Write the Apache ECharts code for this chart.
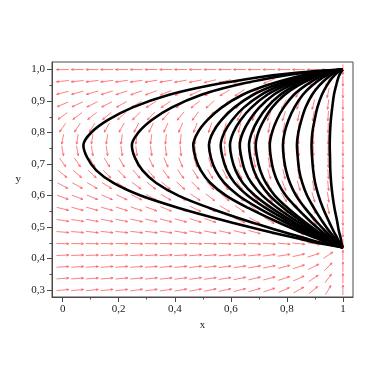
<!DOCTYPE html>
<html><head><meta charset="utf-8">
<script src="https://cdn.jsdelivr.net/npm/echarts@6/dist/echarts.min.js"></script>
<style>html,body{margin:0;padding:0;background:#fff}#c{width:382px;height:382px}</style>
</head><body><div id="c"></div>
<script>
// ---- tick data ----
const xTickValues = [0, 0.2, 0.4, 0.6, 0.8, 1];
const xTickLabels = ['0', '0,2', '0,4', '0,6', '0,8', '1'];
const xMinorTicks = [0.1, 0.3, 0.5, 0.7, 0.9];
const yTickValues = [0.3, 0.4, 0.5, 0.6, 0.7, 0.8, 0.9, 1.0];
const yTickLabels = ['0,3', '0,4', '0,5', '0,6', '0,7', '0,8', '0,9', '1,0'];
const yMinorTicks = [0.35, 0.45, 0.55, 0.65, 0.75, 0.85, 0.95];

// ---- direction field grid (20 x 20) ----
const fieldX = [0, 0.0526, 0.1053, 0.1579, 0.2105, 0.2632, 0.3158, 0.3684, 0.4211, 0.4737,
                0.5263, 0.5789, 0.6316, 0.6842, 0.7368, 0.7895, 0.8421, 0.8947, 0.9474, 1];
const fieldY = [0.3, 0.3368, 0.3737, 0.4105, 0.4474, 0.4842, 0.5211, 0.5579, 0.5947, 0.6316,
                0.6684, 0.7053, 0.7421, 0.7789, 0.8158, 0.8526, 0.8895, 0.9263, 0.9632, 1.0];
// arrow direction in degrees (counter-clockwise from +x), one row per fieldY value
const fieldAngle = [
  [5,5,6,6,6,7,7,8,9,10,11,12,13,16,18,23,29,40,59,90],
  [4,4,4,5,5,5,6,6,7,8,8,9,11,13,15,18,24,34,53,90],
  [3,3,3,4,4,4,4,5,5,6,6,7,8,9,11,14,18,27,45,90],
  [2,2,2,2,3,3,3,3,3,4,4,5,5,6,8,9,13,18,34,90],
  [359,359,359,359,359,359,359,359,358,358,358,358,357,357,356,355,354,351,342,270],
  [355,355,354,354,354,353,353,352,351,351,350,348,347,345,342,337,331,320,301,270],
  [351,351,350,349,349,348,347,346,345,343,342,339,337,333,329,323,315,304,288,270],
  [346,345,344,344,342,341,340,338,337,335,332,329,326,322,317,310,302,293,282,270],
  [340,339,338,337,335,334,332,330,328,325,322,319,315,311,306,300,293,286,278,270],
  [332,331,329,328,326,324,322,320,317,315,312,308,305,301,296,292,287,281,276,270],
  [320,319,317,315,313,311,309,307,305,302,300,297,294,291,287,284,281,277,274,270],
  [305,304,302,301,299,297,296,294,292,290,288,286,284,283,280,278,276,274,272,270],
  [280,280,279,278,278,277,277,276,276,275,275,274,274,273,273,272,272,271,271,270],
  [260,261,261,262,262,263,263,264,264,265,265,266,266,267,267,268,268,269,269,270],
  [235,237,238,240,241,243,244,246,248,250,252,254,256,258,260,262,264,266,268,270],
  [215,217,218,220,222,224,226,228,230,233,236,239,242,246,249,253,257,261,266,270],
  [203,204,206,207,209,210,212,214,217,219,222,226,229,234,239,244,250,256,263,270],
  [194,195,196,197,198,199,200,202,203,205,208,211,214,218,224,230,238,247,258,270],
  [186,186,187,187,188,188,189,189,190,191,193,194,196,198,202,207,214,225,243,270],
  [180,180,180,180,180,180,180,180,180,180,180,180,180,180,180,180,180,180,180,270]
];

// ---- trajectories: x values at the shared y levels ----
const trajY = [1.0, 0.99, 0.975, 0.95, 0.92, 0.88, 0.84, 0.80, 0.76, 0.72, 0.68, 0.64, 0.60, 0.56, 0.52, 0.49, 0.465, 0.45, 0.435];
const traj01 = [1, .833, .694, .528, .380, .250, .162, .102, .074, .088, .120, .181, .278, .417, .579, .713, .833, .907, 1];
const traj02 = [1, .864, .751, .616, .495, .390, .318, .270, .247, .258, .285, .334, .413, .526, .657, .767, .864, .925, 1];
const traj03 = [1, .904, .824, .728, .642, .568, .517, .482, .466, .474, .493, .527, .583, .664, .757, .834, .904, .947, 1];
const traj04 = [1, .914, .842, .756, .680, .613, .567, .536, .522, .529, .546, .577, .627, .699, .783, .852, .914, .952, 1];
const traj05 = [1, .922, .856, .778, .708, .647, .605, .577, .564, .571, .586, .614, .660, .725, .802, .865, .922, .956, 1];
const traj06 = [1, .928, .867, .795, .730, .674, .635, .609, .597, .603, .617, .643, .686, .746, .817, .875, .928, .960, 1];
const traj07 = [1, .934, .879, .812, .753, .702, .667, .643, .632, .638, .650, .674, .713, .768, .833, .886, .934, .963, 1];
const traj08 = [1, .940, .889, .829, .776, .729, .697, .675, .665, .670, .682, .704, .739, .789, .848, .896, .940, .967, 1];
const traj09 = [1, .944, .897, .841, .792, .748, .719, .698, .689, .694, .705, .725, .757, .804, .859, .904, .944, .969, 1];
const traj10 = [1, .953, .914, .867, .825, .789, .764, .747, .739, .743, .752, .769, .796, .836, .881, .919, .953, .974, 1];
const traj11 = [1, .962, .929, .891, .857, .827, .806, .792, .786, .789, .797, .811, .833, .865, .903, .934, .962, .979, 1];
const traj12 = [1, .971, .946, .916, .890, .867, .852, .841, .836, .839, .844, .855, .872, .897, .925, .949, .971, .984, 1];
const traj13 = [1, .980, .963, .943, .925, .909, .899, .891, .888, .890, .894, .901, .913, .929, .949, .965, .980, .989, 1];
const traj14 = [1, .992, .984, .976, .968, .962, .957, .954, .953, .954, .955, .958, .963, .970, .979, .985, .992, .995, 1];
const trajectories = [traj01, traj02, traj03, traj04, traj05, traj06, traj07, traj08, traj09, traj10, traj11, traj12, traj13, traj14];

// ---- build options ----
const fieldData = [];
fieldY.forEach((y, j) => fieldX.forEach((x, i) => fieldData.push([x, y, fieldAngle[j][i]])));

function lookup(values, labels, v) {
  for (let k = 0; k < values.length; k++) if (Math.abs(values[k] - v) < 1e-6) return labels[k];
  return '';
}
const FONT = 'Liberation Serif';
const AX = '#4a4a4a';
const labelStyle = { fontFamily: FONT, fontSize: 11, color: '#1a1a1a' };

function renderArrow(params, api) {
  const p = api.coord([api.value(0), api.value(1)]);
  const a = api.value(2) * Math.PI / 180;
  const dx = Math.cos(a), dy = -Math.sin(a);
  const half = 1 / Math.sqrt((dx / 6.2) * (dx / 6.2) + (dy / 5.0) * (dy / 5.0));
  const t0 = [p[0] - dx * half, p[1] - dy * half];
  const t1 = [p[0] + dx * half, p[1] + dy * half];
  const th = Math.atan2(dy, dx);
  const hl = 2.6, ha = 0.38;
  const b1 = [t1[0] - hl * Math.cos(th - ha), t1[1] - hl * Math.sin(th - ha)];
  const b2 = [t1[0] - hl * Math.cos(th + ha), t1[1] - hl * Math.sin(th + ha)];
  const st = { stroke: '#ff6060', lineWidth: 0.8, fill: null };
  return {
    type: 'group',
    children: [
      { type: 'polyline', shape: { points: [t0, t1] }, style: st },
      { type: 'polyline', shape: { points: [b1, t1, b2] }, style: st }
    ]
  };
}

const series = [{
  type: 'custom',
  renderItem: renderArrow,
  data: fieldData,
  encode: { x: 0, y: 1 },
  silent: true,
  z: 2
}];
trajectories.forEach((xs, k) => {
  series.push({
    type: 'line',
    name: 'trajectory ' + (k + 1),
    data: trajY.map((y, m) => [xs[m], y]),
    smooth: 0.35,
    showSymbol: false,
    lineStyle: { color: '#000', width: 2.6 },
    silent: true,
    z: 3
  });
});

const chart = echarts.init(document.getElementById('c'), null, { renderer: 'canvas' });
chart.setOption({
  animation: false,
  backgroundColor: '#fff',
  grid: { left: 52, right: 29, top: 62, bottom: 85, show: true, borderColor: AX, borderWidth: 1, backgroundColor: 'transparent' },
  xAxis: [{
    type: 'value', min: -0.038, max: 1.036,
    name: 'x', nameLocation: 'middle', nameGap: 18,
    nameTextStyle: { fontFamily: FONT, fontSize: 11, color: '#1a1a1a' },
    axisLine: { show: true, onZero: false, lineStyle: { color: AX, width: 1 } },
    axisTick: { show: true, customValues: xTickValues, length: 5, lineStyle: { color: AX } },
    axisLabel: Object.assign({ customValues: xTickValues, margin: 7, formatter: v => lookup(xTickValues, xTickLabels, v) }, labelStyle),
    splitLine: { show: false }
  }, {
    type: 'value', min: -0.038, max: 1.036, position: 'bottom',
    axisLine: { show: false, onZero: false },
    axisTick: { show: true, customValues: xMinorTicks, length: 2.5, lineStyle: { color: AX } },
    axisLabel: { show: false }, splitLine: { show: false }
  }],
  yAxis: [{
    type: 'value', min: 0.278, max: 1.024,
    name: 'y', nameLocation: 'middle', nameGap: 31, nameRotate: 0,
    nameTextStyle: { fontFamily: FONT, fontSize: 11, color: '#1a1a1a', padding: [8, 0, 0, 0] },
    axisLine: { show: true, onZero: false, lineStyle: { color: AX, width: 1 } },
    axisTick: { show: true, customValues: yTickValues, length: 5, lineStyle: { color: AX } },
    axisLabel: Object.assign({ customValues: yTickValues, margin: 7, formatter: v => lookup(yTickValues, yTickLabels, v) }, labelStyle),
    splitLine: { show: false }
  }, {
    type: 'value', min: 0.278, max: 1.024, position: 'left',
    axisLine: { show: false, onZero: false },
    axisTick: { show: true, customValues: yMinorTicks, length: 2.5, lineStyle: { color: AX } },
    axisLabel: { show: false }, splitLine: { show: false }
  }],
  series: series
});
</script></body></html>
